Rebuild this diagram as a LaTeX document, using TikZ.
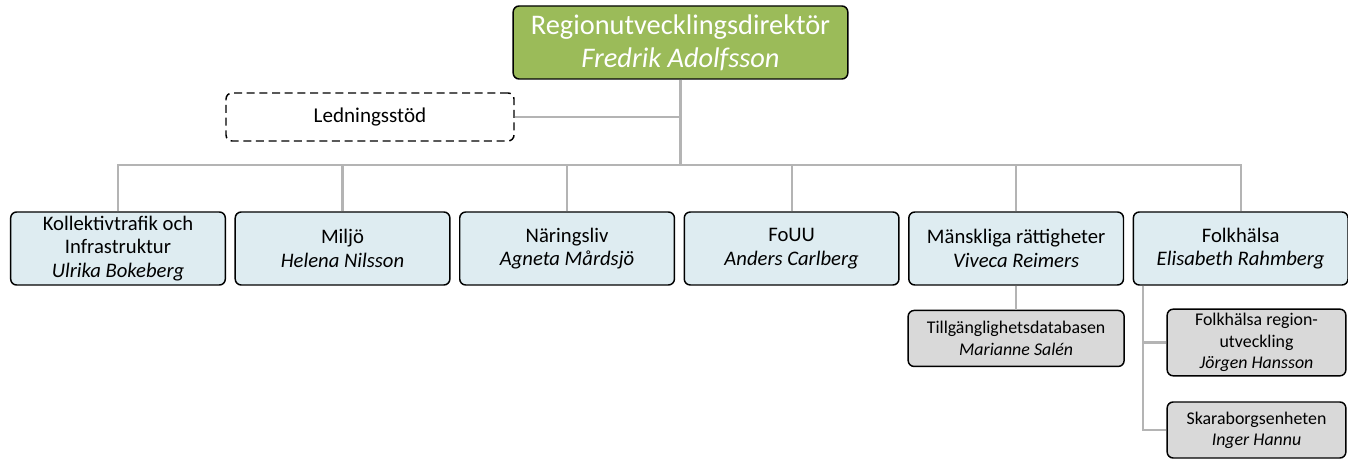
\documentclass[tikz,border=0pt]{standalone}
\usepackage{fontspec}
\setmainfont{Carlito}
\usetikzlibrary{positioning}
\definecolor{headgreen}{HTML}{9BBB59}
\definecolor{unitblue}{HTML}{DEECF1}
\definecolor{subgray}{HTML}{D9D9D9}
\definecolor{linegray}{HTML}{B4B4B4}
\tikzstyle{head} = [rectangle, rounded corners=4.5pt, minimum width=251pt, minimum height=54.75pt, inner sep=1pt, align=center, draw=black, line width=1.1pt, fill=headgreen, text=white, font=\fontsize{21.3}{25}\selectfont]
\tikzstyle{staff} = [rectangle, rounded corners=4.5pt, minimum width=216pt, minimum height=36pt, align=center, draw=black, line width=1.1pt, dash pattern=on 6pt off 3.5pt, fill=white, font=\fontsize{15.8}{18}\selectfont]
\tikzstyle{unit} = [rectangle, rounded corners=4.5pt, minimum width=161pt, minimum height=54.75pt, inner sep=1pt, align=center, draw=black, line width=1.1pt, fill=unitblue, font=\fontsize{15.5}{17.5}\selectfont]
\tikzstyle{subunit} = [rectangle, rounded corners=4.5pt, minimum height=42pt, inner sep=1pt, align=center, draw=black, line width=1.1pt, fill=subgray, font=\fontsize{13.4}{16}\selectfont]
\tikzstyle{conn} = [line width=1.6pt, draw=linegray]

\begin{document}
\begin{tikzpicture}[x=0.75pt, y=-0.75pt, node distance=168.4pt]
    \useasboundingbox (0,0) rectangle (1348,459);
    % Nodes
    \node (dir) [head] at (680.5,42.5) {Regionutvecklingsdirektör\\\textit{Fredrik Adolfsson}};
    \node (stod) [staff] at (370,117) {Ledningsstöd};
    \node (kol) [unit] at (118,248.5) {Kollektivtrafik och\\Infrastruktur\\\textit{Ulrika Bokeberg}};
    \node (mil) [unit, right of=kol] {Miljö\\\textit{Helena Nilsson}};
    \node (nar) [unit, right of=mil] {Näringsliv\\\textit{Agneta Mårdsjö}};
    \node (fou) [unit, right of=nar] {FoUU\\\textit{Anders Carlberg}};
    \node (mr) [unit, right of=fou] {Mänskliga rättigheter\\\textit{Viveca Reimers}};
    \node (fh) [unit, right of=mr] {Folkhälsa\\\textit{Elisabeth Rahmberg}};
    \node (tdb) [subunit, minimum width=162pt, below=18pt of mr] {Tillgänglighetsdatabasen\\\textit{Marianne Salén}};
    \node (fhr) [subunit, minimum width=134pt, minimum height=50pt] at (1256.5,342.5) {Folkhälsa region-\\utveckling\\\textit{Jörgen Hansson}};
    \node (ska) [subunit, minimum width=134pt] at (1256.5,430) {Skaraborgsenheten\\\textit{Inger Hannu}};

    % Lines
    \draw [conn] (dir.south) -- ++(0,85) coordinate (hub);
    \draw [conn] (stod.east) -- (stod.east -| hub);
    \foreach \n in {kol,mil,nar,fou,mr,fh}
        \draw [conn] (\n.north) |- (hub);
    \draw [conn] (mr.south) -- (tdb.north);
    \draw [conn] ([xshift=7.5pt]fh.south west) |- (fhr.west);
    \draw [conn] ([xshift=7.5pt]fh.south west) |- (ska.west);
\end{tikzpicture}
\end{document}
